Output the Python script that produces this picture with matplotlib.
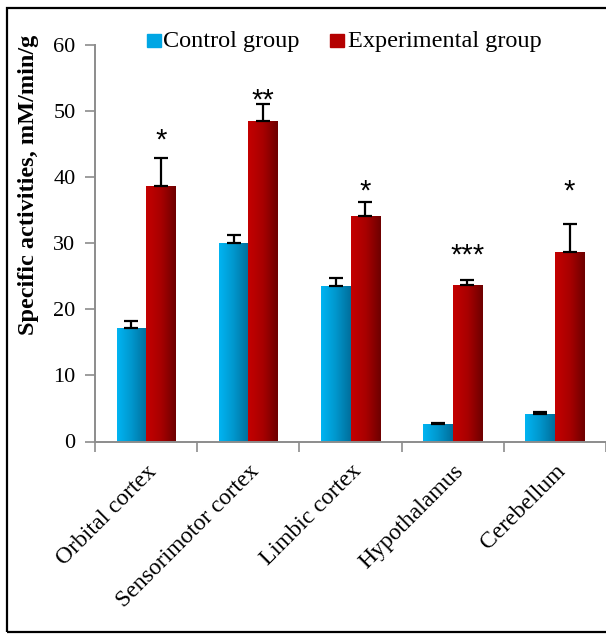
import numpy as np
import matplotlib
matplotlib.use("Agg")
import matplotlib.pyplot as plt
from matplotlib.patches import Rectangle
from matplotlib.colors import LinearSegmentedColormap

regions = ["Orbital cortex", "Sensorimotor cortex", "Limbic cortex",
           "Hypothalamus", "Cerebellum"]
control = [17.1, 30.1, 23.5, 2.6, 4.1]
control_err = [1.1, 1.1, 1.3, 0.2, 0.4]
experimental = [38.6, 48.5, 34.1, 23.7, 28.7]
experimental_err = [4.3, 2.6, 2.2, 0.7, 4.2]
significance = ["*", "**", "*", "***", "*"]
significance_y = [46.9, 52.9, 39.2, 29.5, 39.1]
series_names = ["Control group", "Experimental group"]

W, H, DPI = 606, 635, 100
fig = plt.figure(figsize=(W / DPI, H / DPI), dpi=DPI)
plt.rcParams["font.family"] = ["Liberation Serif", "DejaVu Serif"]

ax = fig.add_axes([95 / W, 1 - 441.5 / H, 1 - 95 / W, (441.5 - 45) / H])

blue_cmap = LinearSegmentedColormap.from_list("blue", ["#00B4F2", "#0096CC", "#006F9C"])
red_cmap = LinearSegmentedColormap.from_list("red", ["#C40000", "#A80000", "#6E0000"])
grad = np.linspace(0, 1, 64).reshape(1, -1)

x = np.arange(len(regions))
bw = 0.288


def gradient_bars(xs, vals, cmap):
    bars = ax.bar(xs, vals, width=bw, color="none", edgecolor="none", zorder=2)
    for b in bars:
        x0, y0 = b.get_x(), b.get_y()
        im = ax.imshow(grad, cmap=cmap, aspect="auto", zorder=2,
                       extent=[x0, x0 + b.get_width(), y0, y0 + b.get_height()],
                       interpolation="bilinear")
        im.set_clip_path(b)
    return bars


gradient_bars(x - bw / 2, control, blue_cmap)
gradient_bars(x + bw / 2, experimental, red_cmap)

err_kw = dict(fmt="none", ecolor="black", elinewidth=1.6, capsize=4.8,
              capthick=1.6, zorder=3)
ax.errorbar(x - bw / 2, control, yerr=[np.zeros(len(x)), control_err], **err_kw)
ax.errorbar(x + bw / 2, experimental, yerr=[np.zeros(len(x)), experimental_err], **err_kw)

# significance marks, glyph centred on the given height
for xi, sy, s in zip(x, significance_y, significance):
    ax.annotate(s, (xi + bw / 2, sy), xytext=(0, -12), textcoords="offset points",
                ha="center", va="baseline", fontsize=21,
                family=["Liberation Sans", "DejaVu Sans"])

ax.set_xlim(-0.5, 4.5)
ax.set_ylim(0, 60)
ax.set_yticks(range(0, 61, 10))
ax.set_xticks(np.arange(-0.5, 4.6, 1.0))
ax.set_xticklabels([])
ax.set_xticks(x, minor=True)
ax.set_xticklabels(regions, minor=True, rotation=45, ha="right",
                   rotation_mode="anchor", fontsize=17)
ax.tick_params(axis="x", which="minor", length=0, pad=14)
ax.tick_params(axis="x", which="major", length=7, color="#8C8C8C", width=1.2)
ax.tick_params(axis="y", length=7, color="#8C8C8C", width=1.2, labelsize=16, pad=7)
for side in ["top", "right"]:
    ax.spines[side].set_visible(False)
for side in ["left", "bottom"]:
    ax.spines[side].set_color("#8C8C8C")
    ax.spines[side].set_linewidth(1.4)

fig.text(29 / W, 1 - 185 / H, "Specific activities, mM/min/g", fontsize=17.5,
         fontweight="bold", rotation=90, ha="center", va="center")

# legend
for (lx, tx), name, col in zip([(147, 163), (330, 348)], series_names,
                               ["#00A6E4", "#B40000"]):
    fig.patches.append(Rectangle((lx / W, 1 - 47 / H), 13.5 / W, 13.5 / H,
                                 transform=fig.transFigure, color=col))
    fig.text(tx / W, 1 - 46.7 / H, name, fontsize=17.5, va="baseline", ha="left")

# outer frame
fig.patches.append(Rectangle((7 / W, 1 - 632 / H), 1.0, (632 - 8) / H,
                             transform=fig.transFigure, fill=False,
                             edgecolor="black", linewidth=1.6))

fig.savefig("out.png", dpi=DPI)
